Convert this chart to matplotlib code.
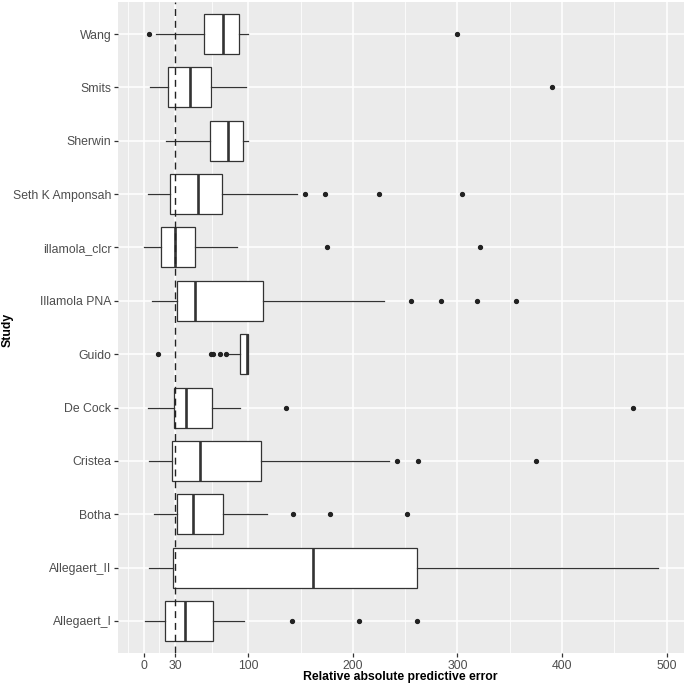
import matplotlib
matplotlib.use("Agg")
import matplotlib.pyplot as plt
from matplotlib.ticker import FixedLocator

plt.rcParams['font.family'] = ['Liberation Sans', 'DejaVu Sans']

# Data (bottom to top)
studies = ["Allegaert_I", "Allegaert_II", "Botha", "Cristea", "De Cock", "Guido",
           "Illamola PNA", "illamola_clcr", "Seth K Amponsah", "Sherwin", "Smits", "Wang"]
whisker_low = [0.8, 4.6, 10, 5.5, 3.9, 81.4, 7.7, 0, 4, 21, 5.8, 12]
q1_vals = [20.6, 28.2, 31.4, 26.6, 29.4, 92, 31.4, 16.7, 25, 63, 23.4, 57.5]
median_vals = [39.3, 162, 46.7, 54, 40.2, 99, 48.6, 29.7, 51.7, 80.4, 44.7, 75.6]
q3_vals = [66, 261.5, 75.6, 111.7, 65.5, 100, 113.9, 49.5, 75.3, 95, 64.8, 91]
whisker_high = [96, 492, 117.4, 235, 91.9, 100, 229.5, 89, 147, 100, 97.6, 100]
outliers = [
    [141.3, 205.6, 261],
    [],
    [142.5, 178, 251.5],
    [242, 262, 375.5],
    [136, 468],
    [13.5, 64.5, 66.4, 72.8, 78.5],
    [256, 284, 319, 356],
    [174.8, 322],
    [154, 173, 224.8, 304],
    [],
    [390],
    [4.9, 300],
]
x_ticks = [0, 30, 100, 200, 300, 400, 500]
x_minor = [-15, 15, 65, 150, 250, 350, 450]
ref_line = 30

stats = []
for i, s in enumerate(studies):
    stats.append(dict(label=s, whislo=whisker_low[i], q1=q1_vals[i], med=median_vals[i],
                      q3=q3_vals[i], whishi=whisker_high[i], fliers=outliers[i]))

fig = plt.figure(figsize=(6.85, 6.85), dpi=100)
ax = fig.add_axes([118/685, 1-653/685, 566/685, 651/685])
ax.set_facecolor("#EBEBEB")

edge = "#333333"
ax.bxp(stats, positions=range(1, len(studies)+1), vert=False, widths=0.75,
       patch_artist=True, showcaps=False,
       boxprops=dict(facecolor="white", edgecolor=edge, linewidth=0.9),
       medianprops=dict(color=edge, linewidth=1.9),
       whiskerprops=dict(color=edge, linewidth=0.9),
       flierprops=dict(marker="o", markerfacecolor="#222222", markeredgecolor="#222222",
                       markersize=2.8, linestyle="none"),
       zorder=3)

ax.axvline(ref_line, color="#222222", linestyle=(0, (5, 3.5)), linewidth=1.0, zorder=5)

data_min, data_max = 0, 492
rng = data_max - data_min
ax.set_xlim(data_min - 0.05*rng, data_max + 0.05*rng)
ax.set_ylim(0.4, len(studies) + 0.6)

ax.xaxis.set_major_locator(FixedLocator(x_ticks))
ax.xaxis.set_minor_locator(FixedLocator(x_minor))
ax.set_xticklabels([str(t) for t in x_ticks])
ax.set_yticks(range(1, len(studies)+1))
ax.set_yticklabels(studies)

ax.grid(True, which="major", color="white", linewidth=1.1, zorder=0)
ax.grid(True, which="minor", axis="x", color="white", linewidth=0.55, zorder=0)
ax.set_axisbelow(True)
for sp in ax.spines.values():
    sp.set_visible(False)

ax.tick_params(axis="both", which="major", length=3.2, width=0.9, color="#333333",
               labelsize=8.8, labelcolor="#4D4D4D", pad=1.5)
ax.tick_params(axis="both", which="minor", length=0)

ax.set_xlabel("Relative absolute predictive error", fontsize=8.8, fontweight="bold",
              color="black")
ax.set_ylabel("Study", fontsize=8.8, fontweight="bold", color="black")
ax.xaxis.set_label_coords((400-118)/566, (653-677)/651)
ax.xaxis.label.set_va("center")
ax.yaxis.set_label_coords((8-118)/566, (653-330)/651)
ax.yaxis.label.set_ha("center")
ax.yaxis.label.set_va("center")

fig.savefig("out.png", dpi=100)
